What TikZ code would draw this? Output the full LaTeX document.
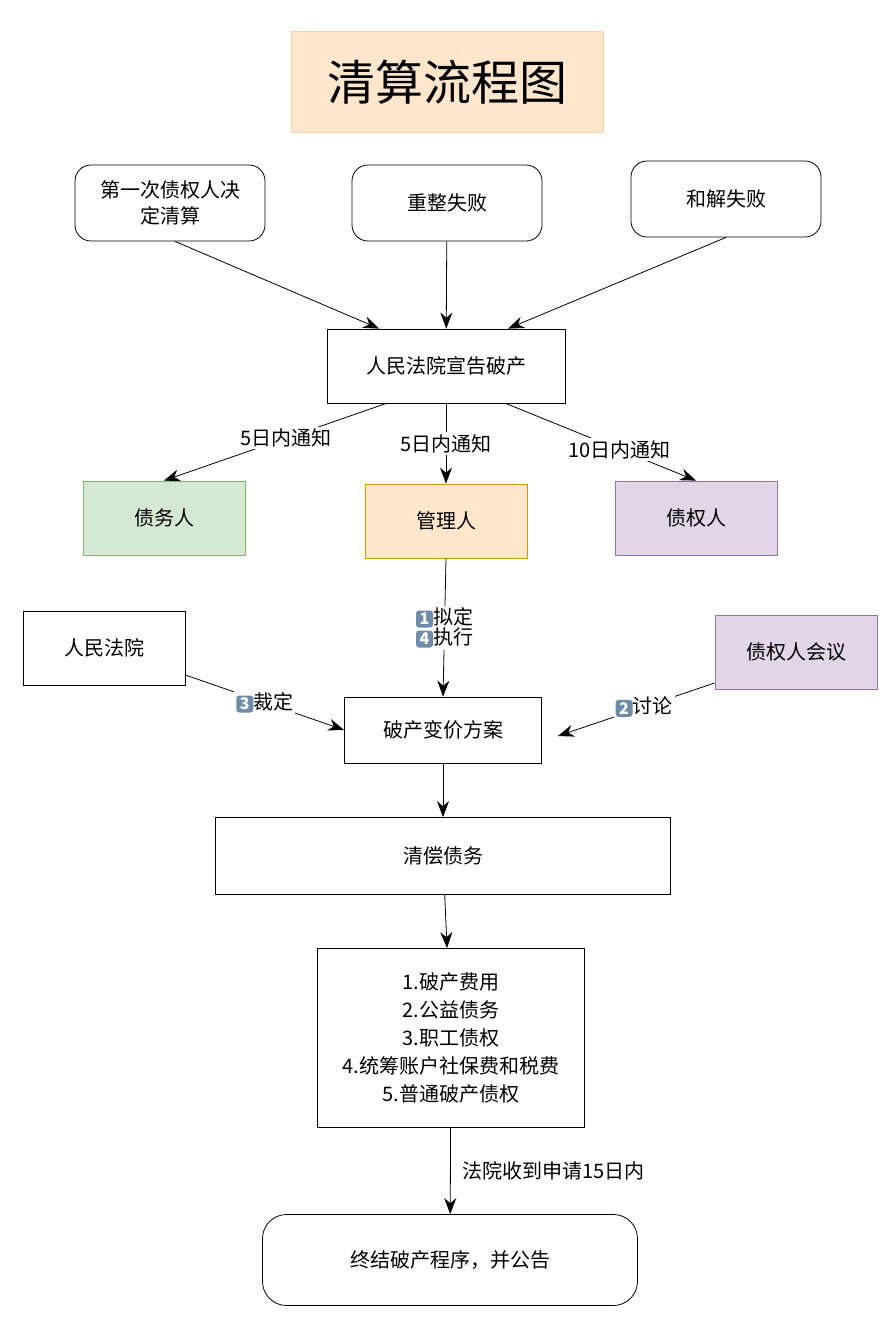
\documentclass[tikz,border=0pt]{standalone}
\usepackage{fontspec}
\setmainfont{Noto Sans CJK SC}
\usepackage{xcolor}
\usetikzlibrary{shapes,arrows.meta,positioning,calc}
\definecolor{titlefill}{HTML}{FFE6CC}
\definecolor{greenfill}{HTML}{D5E8D4}
\definecolor{greendraw}{HTML}{82B366}
\definecolor{orangedraw}{HTML}{D79B00}
\definecolor{purplefill}{HTML}{E1D5E7}
\definecolor{purpledraw}{HTML}{9673A6}
\definecolor{keycap}{HTML}{6E8CA8}
\newcommand{\kc}[1]{\tikz[baseline=-0.5ex]\node[fill=keycap,text=white,rounded corners=3pt,inner sep=1.5pt,minimum size=17pt,font=\fontsize{16}{16}\selectfont\bfseries]{#1};}
\tikzset{
  box/.style={draw,thick,minimum width=162pt,minimum height=74pt,align=center,font=\fontsize{20}{26}\selectfont},
  rbox/.style={box,rounded corners=16pt,minimum width=190pt,minimum height=76pt},
  arr/.style={-{Stealth[length=16pt,width=12pt]},thick},
  lbl/.style={fill=white,inner sep=2pt,font=\fontsize{20}{24}\selectfont}
}
\begin{document}
\begin{tikzpicture}[x=1pt,y=-1pt]
\useasboundingbox (0,0) rectangle (893,1330);
% title
\node[fill=titlefill,draw=titlefill!80!orange,minimum width=312pt,minimum height=101pt,font=\fontsize{48}{50}\selectfont] (title) at (447,82) {清算流程图};
% sources
\node[rbox] (first) at (170,203) {第一次债权人决\\定清算};
\node[rbox] (reorg) at (447,203) {重整失败};
\node[rbox] (settle) at (726,199) {和解失败};
\node[box,minimum width=238pt] (court) at (446,366) {人民法院宣告破产};
% notified parties
\node[box,fill=greenfill,draw=greendraw] (debtor) at (164,518) {债务人};
\node[box,fill=titlefill,draw=orangedraw] (admin) at (446,521) {管理人};
\node[box,fill=purplefill,draw=purpledraw] (creditor) at (696,518) {债权人};
\node[box] (people) at (104,648) {人民法院};
\node[box,fill=purplefill,draw=purpledraw] (meeting) at (796,652) {债权人会议};
\node[box,minimum width=197pt,minimum height=66pt] (plan) at (443,730) {破产变价方案};
\node[box,minimum width=455pt,minimum height=77pt] (pay) at (443,856) {清偿债务};
\node[box,minimum width=267pt,minimum height=179pt,font=\fontsize{20}{28}\selectfont] (order) at (451,1038) {1.破产费用\\2.公益债务\\3.职工债权\\4.统筹账户社保费和税费\\5.普通破产债权};
\node[rbox,minimum width=375pt,minimum height=91pt,rounded corners=24pt] (endp) at (450,1260) {终结破产程序，并公告};
% connectors
\draw[arr] (first.south) ++(5,0) coordinate (a1) -- ($(court.north west)!0.22!(court.north east)$);
\draw[arr] (reorg) -- (court);
\draw[arr] (settle.south) -- ($(court.north west)!0.76!(court.north east)$);
\draw[arr] ($(court.south west)!0.25!(court.south east)$) -- (debtor.north) node[lbl,pos=0.45] {5日内通知};
\draw[arr] (court) -- (admin) node[lbl,midway] {5日内通知};
\draw[arr] ($(court.south west)!0.75!(court.south east)$) -- (creditor.north) node[lbl,pos=0.6] {10日内通知};
\draw[arr] (admin.south) -- (plan.north) node[lbl,pos=0.5,align=left] {\kc{1}拟定\\[-4pt]\kc{4}执行};
\draw[arr] ($(people.east)+(0,27)$) -- (plan.west) node[lbl,midway] {\kc{3}裁定};
\draw[arr] ($(meeting.west)+(0,31)$) -- ($(plan.east)+(16,6)$) node[lbl,pos=0.45] {\kc{2}讨论};
\draw[arr] (plan) -- (pay);
\draw[arr] (pay) -- (order);
\draw[arr] (order) -- (endp) node[pos=0.5,right=8pt,font=\fontsize{20}{24}\selectfont] {法院收到申请15日内};
\end{tikzpicture}
\end{document}
